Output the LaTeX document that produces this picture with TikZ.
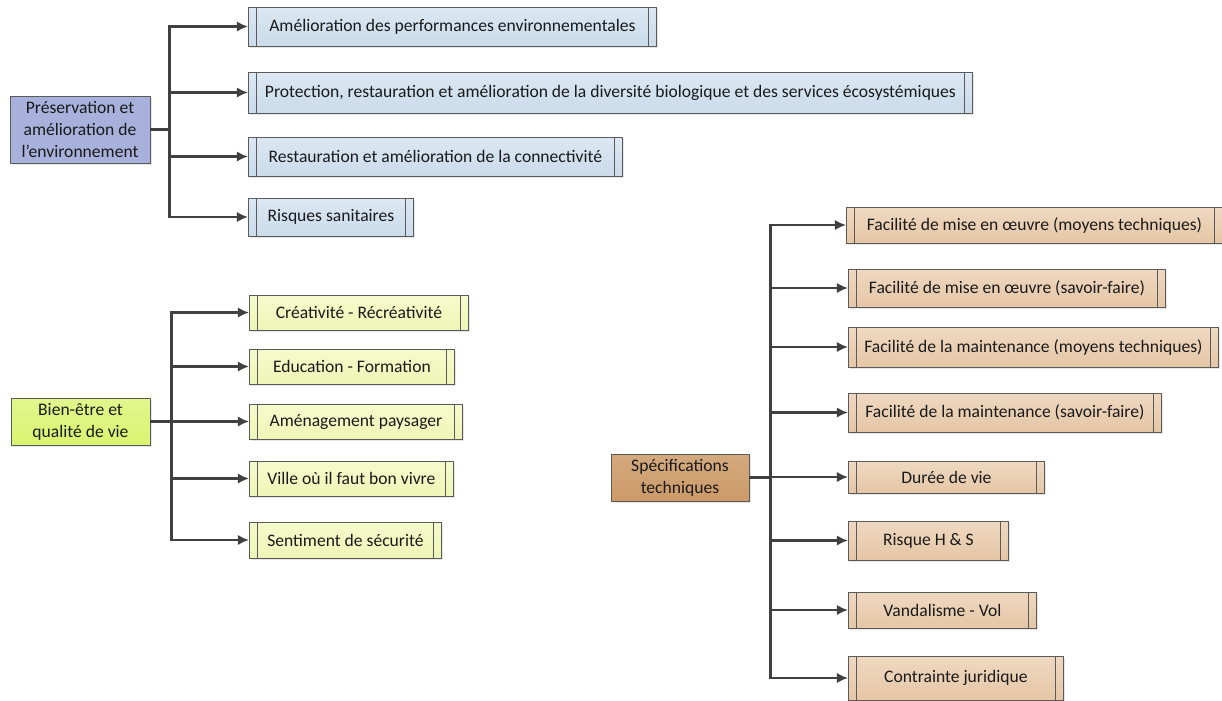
\documentclass[tikz,border=0pt]{standalone}
\usepackage{fontspec}
\setmainfont{Carlito}
\usetikzlibrary{arrows.meta,shadows}
\definecolor{boxline}{HTML}{5A5A5A}
\definecolor{linedark}{HTML}{404040}
\definecolor{textgray}{HTML}{1A1A1A}
\definecolor{envroot}{HTML}{A7B1DB}
\definecolor{envtop}{HTML}{DCE8F3}
\definecolor{envbot}{HTML}{CADBEA}
\definecolor{vieroot}{HTML}{DAF470}
\definecolor{vietop}{HTML}{F5FBCC}
\definecolor{viebot}{HTML}{EDF6B6}
\definecolor{techroot}{HTML}{CC9A68}
\definecolor{techtop}{HTML}{EFD8C1}
\definecolor{techbot}{HTML}{E5C6A6}
\tikzset{
  boxw/.style={minimum width=#1*0.025cm},
  boxh/.style={minimum height=#1*0.025cm},
  box/.style={draw=boxline, line width=0.6pt, inner sep=0pt, align=center,
    text=textgray, font=\fontsize{12.5}{15.6}\selectfont,
    drop shadow={shadow xshift=1.2pt, shadow yshift=-1.2pt, opacity=0.2}},
  procbox/.style={box, anchor=west, path picture={
    \draw[boxline, line width=0.6pt] ([xshift=0.2cm]path picture bounding box.north west) -- ([xshift=0.2cm]path picture bounding box.south west);
    \draw[boxline, line width=0.6pt] ([xshift=-0.2cm]path picture bounding box.north east) -- ([xshift=-0.2cm]path picture bounding box.south east);}},
  envbox/.style={procbox, top color=envtop, bottom color=envbot},
  viebox/.style={procbox, top color=vietop, bottom color=viebot},
  techbox/.style={procbox, top color=techtop, bottom color=techbot},
  conn/.style={draw=linedark, line width=2pt, line join=miter, ->},
}

\begin{document}
\begin{tikzpicture}[x=0.025cm, y=-0.025cm, >={Latex[length=8pt,width=7.5pt]}]
  \useasboundingbox (0,0) rectangle (1222,700);
  % environnement
  \node[box, fill=envroot, boxw=140, boxh=67] (env) at (80,129.5) {Préservation et\\amélioration de\\l’environnement};
  \node[envbox, boxw=408, boxh=39] (env1) at (248,26.5) {Amélioration des performances environnementales};
  \node[envbox, boxw=724, boxh=41] (env2) at (248,92.5) {Protection, restauration et amélioration de la diversité biologique et des services écosystémiques};
  \node[envbox, boxw=374, boxh=39] (env3) at (248,156.5) {Restauration et amélioration de la connectivité};
  \node[envbox, boxw=165, boxh=38] (env4) at (248,217) {Risques sanitaires};
  \draw[conn] (env.east) -- ++(19,0) |- (env1.west);
  \draw[conn] (env.east) -- ++(19,0) |- (env2.west);
  \draw[conn] (env.east) -- ++(19,0) |- (env3.west);
  \draw[conn] (env.east) -- ++(19,0) |- (env4.west);
  % bien-etre
  \node[box, top color=vieroot!80!white, bottom color=vieroot, boxw=139, boxh=47] (vie) at (80.5,421.5) {Bien-être et\\qualité de vie};
  \node[viebox, boxw=219, boxh=35] (vie1) at (249,312.5) {Créativité - Récréativité};
  \node[viebox, boxw=205, boxh=35] (vie2) at (249,366.5) {Education - Formation};
  \node[viebox, boxw=213, boxh=35] (vie3) at (249,421.5) {Aménagement paysager};
  \node[viebox, boxw=204, boxh=35] (vie4) at (249,478.5) {Ville où il faut bon vivre};
  \node[viebox, boxw=192, boxh=36] (vie5) at (249,540) {Sentiment de sécurité};
  \draw[conn] (vie.east) -- ++(21,0) |- (vie1.west);
  \draw[conn] (vie.east) -- ++(21,0) |- (vie2.west);
  \draw[conn] (vie.east) -- ++(21,0) |- (vie3.west);
  \draw[conn] (vie.east) -- ++(21,0) |- (vie4.west);
  \draw[conn] (vie.east) -- ++(21,0) |- (vie5.west);
  % specifications
  \node[box, top color=techroot!85!white, bottom color=techroot, boxw=138, boxh=47] (tech) at (680,477.5) {Spécifications\\techniques};
  \node[techbox, boxw=376, boxh=36] (tech1) at (846,225) {Facilité de mise en œuvre (moyens techniques)};
  \node[techbox, boxw=317, boxh=38] (tech2) at (848,288) {Facilité de mise en œuvre (savoir-faire)};
  \node[techbox, boxw=370, boxh=40] (tech3) at (848,347) {Facilité de la maintenance (moyens techniques)};
  \node[techbox, boxw=313, boxh=39] (tech4) at (848,412.5) {Facilité de la maintenance (savoir-faire)};
  \node[techbox, boxw=196, boxh=32] (tech5) at (848,477) {Durée de vie};
  \node[techbox, boxw=160, boxh=39] (tech6) at (848,540.5) {Risque H \& S};
  \node[techbox, boxw=188, boxh=36] (tech7) at (848,610) {Vandalisme - Vol};
  \node[techbox, boxw=215, boxh=44] (tech8) at (848,678) {Contrainte juridique};
  \draw[conn] (tech.east) -- ++(21,0) |- (tech1.west);
  \draw[conn] (tech.east) -- ++(21,0) |- (tech2.west);
  \draw[conn] (tech.east) -- ++(21,0) |- (tech3.west);
  \draw[conn] (tech.east) -- ++(21,0) |- (tech4.west);
  \draw[conn] (tech.east) -- ++(21,0) |- (tech5.west);
  \draw[conn] (tech.east) -- ++(21,0) |- (tech6.west);
  \draw[conn] (tech.east) -- ++(21,0) |- (tech7.west);
  \draw[conn] (tech.east) -- ++(21,0) |- (tech8.west);
\end{tikzpicture}
\end{document}
